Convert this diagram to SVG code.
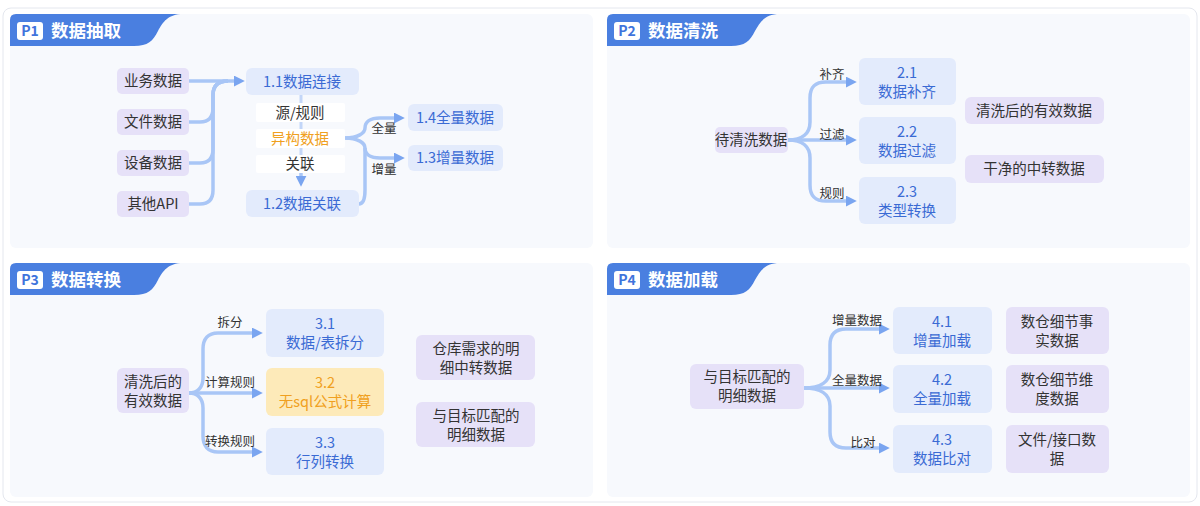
<svg xmlns="http://www.w3.org/2000/svg" width="1200" height="506" viewBox="0 0 1200 506">
<defs>
<style>
text{font-family:"Noto Sans CJK SC","Noto Sans",sans-serif;}
.panel{fill:#f7f9fd;}
.tab{fill:#4a7fe0;}
.badge{fill:#ffffff;}
.btxt{fill:#3f74dc;font-size:14px;font-weight:bold;text-anchor:middle;}
.htxt{fill:#ffffff;font-size:17.5px;font-weight:bold;}
.lav{fill:#e6e1f8;}
.blu{fill:#e3ebfc;}
.org{fill:#fdeab9;}
.wht{fill:#ffffff;}
.t{font-size:14.5px;text-anchor:middle;fill:#333333;}
.tb{font-size:14.5px;text-anchor:middle;fill:#3a6ad4;}
.to{font-size:14.5px;text-anchor:middle;fill:#f0a020;}
.lbl{font-size:12.5px;text-anchor:middle;fill:#333333;}
.c{fill:none;stroke:#a9c6f6;stroke-width:3.5;}
.cv{fill:none;stroke:#c3d6f8;stroke-width:3;}
</style>
<marker id="arr" viewBox="0 0 10 10" refX="2" refY="5" markerWidth="11" markerHeight="11" markerUnits="userSpaceOnUse" orient="auto">
<path d="M0,0 L10,5 L0,10 Z" fill="#7aa5f0"/>
</marker>
<path id="tabshape" d="M0,32 V6 Q0,0 6,0 H173 C158,0 153,8 148,17 C143,27 138,32 124,32 Z"/>
</defs>
<rect x="3" y="8" width="1194" height="494" rx="8" fill="#ffffff" stroke="#e4e7ee" stroke-width="1"/>

<g id="panel-p1">
<rect class="panel" x="10" y="14" width="583" height="234" rx="6"/>
<use href="#tabshape" class="tab" x="10" y="14"/>
<rect class="badge" x="17" y="22" width="26" height="18" rx="3"/>
<text class="btxt" x="30" y="36">P1</text>
<text class="htxt" x="51" y="37">数据抽取</text>
</g>
<g id="panel-p2">
<rect class="panel" x="607" y="14" width="583" height="234" rx="6"/>
<use href="#tabshape" class="tab" x="607" y="14"/>
<rect class="badge" x="614" y="22" width="26" height="18" rx="3"/>
<text class="btxt" x="627" y="36">P2</text>
<text class="htxt" x="648" y="37">数据清洗</text>
</g>
<g id="panel-p3">
<rect class="panel" x="10" y="263" width="583" height="234" rx="6"/>
<use href="#tabshape" class="tab" x="10" y="263"/>
<rect class="badge" x="17" y="271" width="26" height="18" rx="3"/>
<text class="btxt" x="30" y="285">P3</text>
<text class="htxt" x="51" y="286">数据转换</text>
</g>
<g id="panel-p4">
<rect class="panel" x="607" y="263" width="583" height="234" rx="6"/>
<use href="#tabshape" class="tab" x="607" y="263"/>
<rect class="badge" x="614" y="271" width="26" height="18" rx="3"/>
<text class="btxt" x="627" y="285">P4</text>
<text class="htxt" x="648" y="286">数据加载</text>
</g>

<g id="connectors">
<!-- P1 left -->
<path class="c" d="M189,81 H236" marker-end="url(#arr)"/>
<path class="c" d="M189,122 H200 C209,122 213,117 213,108 V95 C213,86 218,81 228,81"/>
<path class="c" d="M189,163 H200 C209,163 213,158 213,149 V95 C213,86 218,81 228,81"/>
<path class="c" d="M189,204 H200 C209,204 213,199 213,190 V95 C213,86 218,81 228,81"/>
<!-- P1 middle -->
<path class="cv" d="M301,95 V103"/>
<path class="cv" d="M301,122 V129"/>
<path class="cv" d="M301,148 V155"/>
<path class="c" d="M301,173 V178" marker-end="url(#arr)"/>
<!-- P1 right -->
<path class="c" d="M345,138 C358,138 365,133 365,128 C365,122 370,118 380,118 H396" marker-end="url(#arr)"/>
<path class="c" d="M345,138 C358,138 365,143 365,148 C365,154 370,158 380,158 H396" marker-end="url(#arr)"/>
<path class="c" d="M359,204 C364,204 365,198 365,190 V148"/>
<!-- P2 -->
<path class="c" d="M788,140 C802,140 810,134 810,122 V98 C810,87 815,82 826,82 H848" marker-end="url(#arr)"/>
<path class="c" d="M788,140 H848" marker-end="url(#arr)"/>
<path class="c" d="M788,140 C802,140 810,146 810,158 V185 C810,196 815,201 826,201 H848" marker-end="url(#arr)"/>
<!-- P3 -->
<path class="c" d="M189,393 C197,393 203,388 203,378 V349 C203,339 208,333 218,333 H254" marker-end="url(#arr)"/>
<path class="c" d="M189,393 H254" marker-end="url(#arr)"/>
<path class="c" d="M189,393 C197,393 203,398 203,408 V436 C203,446 208,452 218,452 H254" marker-end="url(#arr)"/>
<!-- P4 -->
<path class="c" d="M804,388 C820,388 830,382 830,370 V345 C830,334 836,329 846,329 H881" marker-end="url(#arr)"/>
<path class="c" d="M804,388 H881" marker-end="url(#arr)"/>
<path class="c" d="M804,388 C820,388 830,394 830,406 V432 C830,443 836,448 846,448 H881" marker-end="url(#arr)"/>
</g>

<g id="labels">
<text class="lbl" x="384" y="133">全量</text>
<text class="lbl" x="384" y="174">增量</text>
<text class="lbl" x="832" y="79">补齐</text>
<text class="lbl" x="832" y="139">过滤</text>
<text class="lbl" x="832" y="198">规则</text>
<text class="lbl" x="230" y="327">拆分</text>
<text class="lbl" x="230" y="387">计算规则</text>
<text class="lbl" x="230" y="446">转换规则</text>
<text class="lbl" x="857" y="325">增量数据</text>
<text class="lbl" x="857" y="385">全量数据</text>
<text class="lbl" x="863" y="447">比对</text>
</g>

<!-- P1 nodes -->
<g id="n-yewu"><rect class="lav" x="117" y="68" width="72" height="26" rx="5"/><text class="t" x="153" y="86">业务数据</text></g>
<g id="n-wenjian"><rect class="lav" x="117" y="109" width="72" height="26" rx="5"/><text class="t" x="153" y="127">文件数据</text></g>
<g id="n-shebei"><rect class="lav" x="117" y="150" width="72" height="26" rx="5"/><text class="t" x="153" y="168">设备数据</text></g>
<g id="n-api"><rect class="lav" x="117" y="191" width="72" height="26" rx="5"/><text class="t" x="153" y="209">其他API</text></g>
<g id="n-1-1"><rect class="blu" x="246" y="68" width="113" height="27" rx="6"/><text class="tb" x="302" y="86.5">1.1数据连接</text></g>
<g id="n-yuan"><rect class="wht" x="256" y="103" width="89" height="19" rx="2"/><text class="t" x="300" y="117.5">源/规则</text></g>
<g id="n-yigou"><rect class="wht" x="256" y="129" width="89" height="19" rx="2"/><text class="to" x="300" y="143.5">异构数据</text></g>
<g id="n-guanlian"><rect class="wht" x="256" y="155" width="89" height="18" rx="2"/><text class="t" x="300" y="169">关联</text></g>
<g id="n-1-2"><rect class="blu" x="246" y="190" width="113" height="27" rx="6"/><text class="tb" x="302" y="208.5">1.2数据关联</text></g>
<g id="n-1-4"><rect class="blu" x="408" y="104" width="95" height="27" rx="6"/><text class="tb" x="455" y="122.5">1.4全量数据</text></g>
<g id="n-1-3"><rect class="blu" x="408" y="145" width="95" height="26" rx="6"/><text class="tb" x="455" y="163">1.3增量数据</text></g>

<!-- P2 nodes -->
<g id="n-daiqingxi"><rect class="lav" x="715" y="127" width="73" height="26" rx="5"/><text class="t" x="751" y="145">待清洗数据</text></g>
<g id="n-2-1"><rect class="blu" x="859" y="58" width="97" height="47" rx="6"/><text class="tb" x="907" y="78">2.1</text><text class="tb" x="907" y="97">数据补齐</text></g>
<g id="n-2-2"><rect class="blu" x="859" y="117" width="97" height="47" rx="6"/><text class="tb" x="907" y="137">2.2</text><text class="tb" x="907" y="156">数据过滤</text></g>
<g id="n-2-3"><rect class="blu" x="859" y="177" width="97" height="47" rx="6"/><text class="tb" x="907" y="197">2.3</text><text class="tb" x="907" y="216">类型转换</text></g>
<g id="n-youxiao"><rect class="lav" x="965" y="97" width="139" height="27" rx="6"/><text class="t" x="1034" y="115.5">清洗后的有效数据</text></g>
<g id="n-ganjing"><rect class="lav" x="965" y="155" width="139" height="28" rx="6"/><text class="t" x="1034" y="174">干净的中转数据</text></g>

<!-- P3 nodes -->
<g id="n-qxhyx"><rect class="lav" x="117" y="368" width="72" height="45" rx="6"/><text class="t" x="153" y="386.5">清洗后的</text><text class="t" x="153" y="405.5">有效数据</text></g>
<g id="n-3-1"><rect class="blu" x="266" y="309" width="118" height="48" rx="6"/><text class="tb" x="325" y="329">3.1</text><text class="tb" x="325" y="348">数据/表拆分</text></g>
<g id="n-3-2"><rect class="org" x="266" y="368" width="118" height="48" rx="6"/><text class="to" x="325" y="388">3.2</text><text class="to" x="325" y="407">无sql公式计算</text></g>
<g id="n-3-3"><rect class="blu" x="266" y="428" width="118" height="47" rx="6"/><text class="tb" x="325" y="448">3.3</text><text class="tb" x="325" y="467">行列转换</text></g>
<g id="n-cangku"><rect class="lav" x="416" y="335" width="119" height="45" rx="6"/><text class="t" x="476" y="353.5">仓库需求的明</text><text class="t" x="476" y="372.5">细中转数据</text></g>
<g id="n-pipei3"><rect class="lav" x="416" y="402" width="119" height="45" rx="6"/><text class="t" x="476" y="420.5">与目标匹配的</text><text class="t" x="476" y="439.5">明细数据</text></g>

<!-- P4 nodes -->
<g id="n-pipei4"><rect class="lav" x="690" y="364" width="114" height="45" rx="6"/><text class="t" x="747" y="382">与目标匹配的</text><text class="t" x="747" y="401">明细数据</text></g>
<g id="n-4-1"><rect class="blu" x="893" y="307" width="99" height="47" rx="6"/><text class="tb" x="942" y="327">4.1</text><text class="tb" x="942" y="346">增量加载</text></g>
<g id="n-4-2"><rect class="blu" x="893" y="365" width="99" height="48" rx="6"/><text class="tb" x="942" y="385">4.2</text><text class="tb" x="942" y="404">全量加载</text></g>
<g id="n-4-3"><rect class="blu" x="893" y="425" width="99" height="48" rx="6"/><text class="tb" x="942" y="445">4.3</text><text class="tb" x="942" y="464">数据比对</text></g>
<g id="n-shishi"><rect class="lav" x="1006" y="307" width="103" height="47" rx="6"/><text class="t" x="1057" y="327">数仓细节事</text><text class="t" x="1057" y="346">实数据</text></g>
<g id="n-weidu"><rect class="lav" x="1006" y="365" width="103" height="48" rx="6"/><text class="t" x="1057" y="385">数仓细节维</text><text class="t" x="1057" y="404">度数据</text></g>
<g id="n-jiekou"><rect class="lav" x="1006" y="425" width="103" height="48" rx="6"/><text class="t" x="1057" y="445">文件/接口数</text><text class="t" x="1057" y="464">据</text></g>
</svg>
